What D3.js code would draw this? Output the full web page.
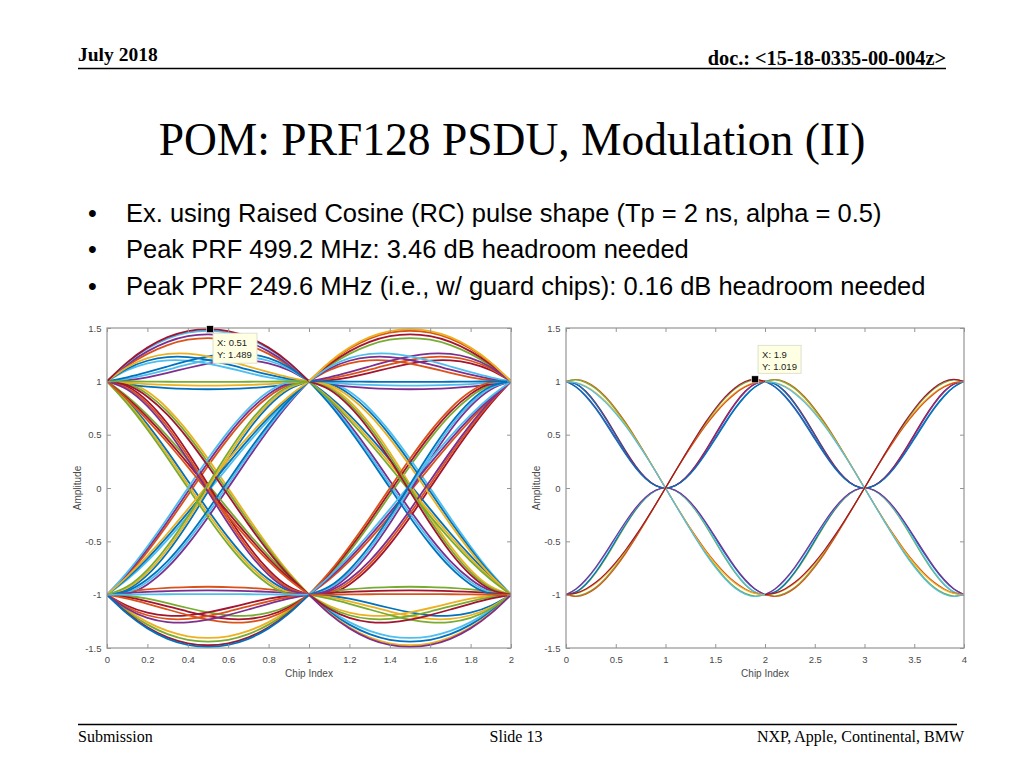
<!DOCTYPE html>
<html><head><meta charset="utf-8">
<script src="https://cdn.jsdelivr.net/npm/d3@7"></script>
<style>body{margin:0;background:#fff}svg{display:block}</style>
</head><body>
<svg id="c" width="1024" height="768"></svg>
<script>
// ---------------- DATA ----------------
const headerLeft = "July 2018";
const headerRight = "doc.: <15-18-0335-00-004z>";
const titleText = "POM: PRF128 PSDU, Modulation (II)";
const bullets = [
  "Ex. using Raised Cosine (RC) pulse shape (Tp = 2 ns, alpha = 0.5)",
  "Peak PRF 499.2 MHz: 3.46 dB headroom needed",
  "Peak PRF 249.6 MHz (i.e., w/ guard chips): 0.16 dB headroom needed"
];
const footer = ["Submission", "Slide 13", "NXP, Apple, Continental, BMW"];

const yTicks = [-1.5, -1, -0.5, 0, 0.5, 1, 1.5];
const leftXTicks = [0, 0.2, 0.4, 0.6, 0.8, 1, 1.2, 1.4, 1.6, 1.8, 2];
const rightXTicks = [0, 0.5, 1, 1.5, 2, 2.5, 3, 3.5, 4];
const xLabel = "Chip Index";
const yLabel = "Amplitude";

// sample positions inside one segment
const stepsOne = [0, 0.1, 0.2, 0.3, 0.4, 0.5, 0.6, 0.7, 0.8, 0.9, 1];
const stepsTwo = [0, 0.1, 0.2, 0.3, 0.4, 0.5, 0.6, 0.7, 0.8, 0.9, 1, 1.1, 1.2, 1.3, 1.4, 1.5, 1.6, 1.7, 1.8, 1.9, 2];
const leftSegStarts = [0, 1];
const rightSegStarts = [0, 2];

// Left eye (Peak PRF 499.2 MHz): one-chip trace segments, starting at +1
const arcA = [1, 1.178, 1.316, 1.414, 1.471, 1.489, 1.471, 1.414, 1.316, 1.178, 1];
const arcB = [1, 1.172, 1.305, 1.400, 1.456, 1.474, 1.456, 1.400, 1.305, 1.172, 1];
const arcC = [1, 1.158, 1.281, 1.370, 1.423, 1.440, 1.423, 1.370, 1.281, 1.158, 1];
const arcD = [1, 1.144, 1.257, 1.340, 1.390, 1.406, 1.390, 1.340, 1.257, 1.144, 1];
const skewRA = [1, 1.038, 1.086, 1.139, 1.191, 1.234, 1.260, 1.257, 1.217, 1.132, 1];
const skewRB = [1, 1.024, 1.062, 1.109, 1.158, 1.200, 1.227, 1.227, 1.193, 1.118, 1];
const skewRC = [1, 1.010, 1.038, 1.079, 1.125, 1.166, 1.194, 1.197, 1.169, 1.104, 1];
const skewLA = [1, 1.132, 1.217, 1.257, 1.260, 1.234, 1.191, 1.139, 1.086, 1.038, 1];
const skewLB = [1, 1.118, 1.193, 1.227, 1.227, 1.200, 1.158, 1.109, 1.062, 1.024, 1];
const skewLC = [1, 1.104, 1.169, 1.197, 1.194, 1.166, 1.125, 1.079, 1.038, 1.010, 1];
const flatA = [1, 0.999, 0.998, 0.996, 0.995, 0.994, 0.995, 0.996, 0.998, 0.999, 1];
const flatB = [1, 0.985, 0.974, 0.966, 0.962, 0.960, 0.962, 0.966, 0.974, 0.985, 1];
const flatC = [1, 0.971, 0.950, 0.936, 0.929, 0.926, 0.929, 0.936, 0.950, 0.971, 1];
const fallA1 = [1, 0.819, 0.596, 0.341, 0.068, -0.206, -0.463, -0.685, -0.856, -0.964, -1];
const fallA2 = [1, 0.805, 0.572, 0.311, 0.035, -0.240, -0.496, -0.715, -0.880, -0.978, -1];
const fallA3 = [1, 0.791, 0.548, 0.281, 0.002, -0.274, -0.529, -0.745, -0.904, -0.992, -1];
const fallB1 = [1, 0.992, 0.904, 0.745, 0.529, 0.274, -0.002, -0.281, -0.548, -0.791, -1];
const fallB2 = [1, 0.978, 0.880, 0.715, 0.496, 0.240, -0.035, -0.311, -0.572, -0.805, -1];
const fallB3 = [1, 0.964, 0.856, 0.685, 0.463, 0.206, -0.068, -0.341, -0.596, -0.819, -1];
const fallC1 = [1, 0.858, 0.685, 0.484, 0.264, 0.034, -0.198, -0.424, -0.637, -0.830, -1];
const fallC2 = [1, 0.844, 0.661, 0.454, 0.231, 0.000, -0.231, -0.454, -0.661, -0.844, -1];
const fallC3 = [1, 0.830, 0.637, 0.424, 0.198, -0.034, -0.264, -0.484, -0.685, -0.858, -1];
const fallD1 = [1, 0.952, 0.815, 0.602, 0.333, 0.034, -0.267, -0.542, -0.767, -0.924, -1];
const fallD2 = [1, 0.938, 0.791, 0.572, 0.300, 0.000, -0.300, -0.572, -0.791, -0.938, -1];
const fallD3 = [1, 0.924, 0.767, 0.542, 0.267, -0.034, -0.333, -0.602, -0.815, -0.952, -1];
// starting at -1
const troughA = [-1, -1.178, -1.316, -1.414, -1.471, -1.489, -1.471, -1.414, -1.316, -1.178, -1];
const troughB = [-1, -1.172, -1.305, -1.400, -1.456, -1.474, -1.456, -1.400, -1.305, -1.172, -1];
const troughC = [-1, -1.158, -1.281, -1.370, -1.423, -1.440, -1.423, -1.370, -1.281, -1.158, -1];
const troughD = [-1, -1.144, -1.257, -1.340, -1.390, -1.406, -1.390, -1.340, -1.257, -1.144, -1];
const nskewRA = [-1, -1.038, -1.086, -1.139, -1.191, -1.234, -1.260, -1.257, -1.217, -1.132, -1];
const nskewRB = [-1, -1.024, -1.062, -1.109, -1.158, -1.200, -1.227, -1.227, -1.193, -1.118, -1];
const nskewRC = [-1, -1.010, -1.038, -1.079, -1.125, -1.166, -1.194, -1.197, -1.169, -1.104, -1];
const nskewLA = [-1, -1.132, -1.217, -1.257, -1.260, -1.234, -1.191, -1.139, -1.086, -1.038, -1];
const nskewLB = [-1, -1.118, -1.193, -1.227, -1.227, -1.200, -1.158, -1.109, -1.062, -1.024, -1];
const nskewLC = [-1, -1.104, -1.169, -1.197, -1.194, -1.166, -1.125, -1.079, -1.038, -1.010, -1];
const nflatA = [-1, -0.999, -0.998, -0.996, -0.995, -0.994, -0.995, -0.996, -0.998, -0.999, -1];
const nflatB = [-1, -0.985, -0.974, -0.966, -0.962, -0.960, -0.962, -0.966, -0.974, -0.985, -1];
const nflatC = [-1, -0.971, -0.950, -0.936, -0.929, -0.926, -0.929, -0.936, -0.950, -0.971, -1];
const riseA1 = [-1, -0.819, -0.596, -0.341, -0.068, 0.206, 0.463, 0.685, 0.856, 0.964, 1];
const riseA2 = [-1, -0.805, -0.572, -0.311, -0.035, 0.240, 0.496, 0.715, 0.880, 0.978, 1];
const riseA3 = [-1, -0.791, -0.548, -0.281, -0.002, 0.274, 0.529, 0.745, 0.904, 0.992, 1];
const riseB1 = [-1, -0.992, -0.904, -0.745, -0.529, -0.274, 0.002, 0.281, 0.548, 0.791, 1];
const riseB2 = [-1, -0.978, -0.880, -0.715, -0.496, -0.240, 0.035, 0.311, 0.572, 0.805, 1];
const riseB3 = [-1, -0.964, -0.856, -0.685, -0.463, -0.206, 0.068, 0.341, 0.596, 0.819, 1];
const riseC1 = [-1, -0.858, -0.685, -0.484, -0.264, -0.034, 0.198, 0.424, 0.637, 0.830, 1];
const riseC2 = [-1, -0.844, -0.661, -0.454, -0.231, 0.000, 0.231, 0.454, 0.661, 0.844, 1];
const riseC3 = [-1, -0.830, -0.637, -0.424, -0.198, 0.034, 0.264, 0.484, 0.685, 0.858, 1];
const riseD1 = [-1, -0.952, -0.815, -0.602, -0.333, -0.034, 0.267, 0.542, 0.767, 0.924, 1];
const riseD2 = [-1, -0.938, -0.791, -0.572, -0.300, 0.000, 0.300, 0.572, 0.791, 0.938, 1];
const riseD3 = [-1, -0.924, -0.767, -0.542, -0.267, 0.034, 0.333, 0.602, 0.815, 0.952, 1];

// Right eye (Peak PRF 249.6 MHz, guard chips): two-chip trace segments
const uuA = [1, 0.978, 0.908, 0.797, 0.658, 0.503, 0.348, 0.208, 0.096, 0.025, 0, 0.025, 0.096, 0.208, 0.348, 0.503, 0.658, 0.797, 0.908, 0.978, 1];
const uuB = [1, 0.974, 0.900, 0.787, 0.646, 0.491, 0.338, 0.200, 0.092, 0.023, 0, 0.023, 0.090, 0.194, 0.324, 0.469, 0.616, 0.751, 0.866, 0.950, 1];
const uuC = [1, 0.950, 0.866, 0.751, 0.616, 0.469, 0.324, 0.194, 0.090, 0.023, 0, 0.023, 0.092, 0.200, 0.338, 0.491, 0.646, 0.787, 0.900, 0.974, 1];
const uuD = [1, 0.946, 0.858, 0.741, 0.604, 0.457, 0.314, 0.186, 0.086, 0.021, 0, 0.021, 0.086, 0.186, 0.314, 0.457, 0.604, 0.741, 0.858, 0.946, 1];
const udA = [1, 1.017, 0.996, 0.940, 0.854, 0.743, 0.613, 0.469, 0.315, 0.159, 0, -0.155, -0.305, -0.447, -0.579, -0.697, -0.800, -0.884, -0.946, -0.985, -1];
const udB = [1, 1.013, 0.988, 0.930, 0.842, 0.731, 0.603, 0.461, 0.311, 0.157, 0, -0.157, -0.311, -0.461, -0.603, -0.731, -0.842, -0.930, -0.988, -1.013, -1];
const udC = [1, 0.989, 0.954, 0.894, 0.812, 0.709, 0.589, 0.455, 0.309, 0.157, 0, -0.157, -0.309, -0.455, -0.589, -0.709, -0.812, -0.894, -0.954, -0.989, -1];
const udD = [1, 0.985, 0.946, 0.884, 0.800, 0.697, 0.579, 0.447, 0.305, 0.155, 0, -0.159, -0.315, -0.469, -0.613, -0.743, -0.854, -0.940, -0.996, -1.017, -1];
const ddA = [-1, -0.978, -0.908, -0.797, -0.658, -0.503, -0.348, -0.208, -0.096, -0.025, 0, -0.025, -0.096, -0.208, -0.348, -0.503, -0.658, -0.797, -0.908, -0.978, -1];
const ddB = [-1, -0.974, -0.900, -0.787, -0.646, -0.491, -0.338, -0.200, -0.092, -0.023, 0, -0.023, -0.090, -0.194, -0.324, -0.469, -0.616, -0.751, -0.866, -0.950, -1];
const ddC = [-1, -0.950, -0.866, -0.751, -0.616, -0.469, -0.324, -0.194, -0.090, -0.023, 0, -0.023, -0.092, -0.200, -0.338, -0.491, -0.646, -0.787, -0.900, -0.974, -1];
const ddD = [-1, -0.946, -0.858, -0.741, -0.604, -0.457, -0.314, -0.186, -0.086, -0.021, 0, -0.021, -0.086, -0.186, -0.314, -0.457, -0.604, -0.741, -0.858, -0.946, -1];
const duA = [-1, -0.985, -0.946, -0.884, -0.800, -0.697, -0.579, -0.447, -0.305, -0.155, 0, 0.159, 0.315, 0.469, 0.613, 0.743, 0.854, 0.940, 0.998, 1.019, 1];
const duB = [-1, -0.989, -0.954, -0.894, -0.812, -0.709, -0.589, -0.455, -0.309, -0.157, 0, 0.157, 0.309, 0.455, 0.589, 0.709, 0.812, 0.894, 0.954, 0.989, 1];
const duC = [-1, -1.013, -0.988, -0.930, -0.842, -0.731, -0.603, -0.461, -0.311, -0.157, 0, 0.157, 0.311, 0.461, 0.603, 0.731, 0.842, 0.930, 0.988, 1.013, 1];
const duD = [-1, -1.017, -0.996, -0.940, -0.854, -0.743, -0.613, -0.469, -0.315, -0.159, 0, 0.155, 0.305, 0.447, 0.579, 0.697, 0.800, 0.884, 0.946, 0.985, 1];

// data tips
const tipX = [0.51, 1.9];
const tipY = [1.489, 1.019];

// MATLAB default colour order
const colorOrder = ["#0072BD", "#D95319", "#EDB120", "#7E2F8E", "#77AC30", "#4DBEEE", "#A2142F"];

const leftSegments = [
  fallA1, riseA1, fallB1, riseB1, fallC1, riseC1, fallD1, riseD1,
  arcD, troughD, skewRC, nskewRC, skewLC, nskewLC, flatC, nflatC,
  fallA2, riseA2, fallB2, riseB2, fallC2, riseC2, fallD2, riseD2,
  arcC, troughC, skewRB, nskewRB, skewLB, nskewLB, flatB, nflatB,
  fallA3, riseA3, fallB3, riseB3, fallC3, riseC3, fallD3, riseD3,
  arcB, troughB, skewRA, nskewRA, skewLA, nskewLA, flatA, nflatA,
  arcA, troughA
];
const rightSegments = [
  {v: uuA, c: "#A2142F"}, {v: uuB, c: "#0072BD"}, {v: uuC, c: "#7E2F8E"}, {v: uuD, c: "#0072BD"},
  {v: ddA, c: "#77AC30"}, {v: ddB, c: "#0072BD"}, {v: ddC, c: "#4DBEEE"}, {v: ddD, c: "#7E2F8E"},
  {v: udA, c: "#D95319"}, {v: udB, c: "#77AC30"}, {v: udC, c: "#EDB120"}, {v: udD, c: "#4DBEEE"},
  {v: duB, c: "#EDB120"}, {v: duC, c: "#77AC30"}, {v: duD, c: "#D95319"}, {v: duA, c: "#A2142F"}
];

// ---------------- DRAW ----------------
const svg = d3.select("#c");
const serif = "'Liberation Serif','Times New Roman',serif";
const sans = "'Liberation Sans',Arial,Helvetica,sans-serif";

// header
svg.append("text").attr("x", 78).attr("y", 61).attr("font-family", serif).attr("font-weight", "bold")
  .attr("font-size", 19.5).text(headerLeft);
svg.append("text").attr("x", 946).attr("y", 65).attr("text-anchor", "end").attr("font-family", serif)
  .attr("font-weight", "bold").attr("font-size", 20.3).text(headerRight);
svg.append("line").attr("x1", 78).attr("x2", 946).attr("y1", 68.5).attr("y2", 68.5)
  .attr("stroke", "#000").attr("stroke-width", 1.6);

// title
svg.append("text").attr("x", 512).attr("y", 155).attr("text-anchor", "middle").attr("font-family", serif)
  .attr("font-size", 45.5).attr("fill", "#000").text(titleText);

// bullets
bullets.forEach((b, i) => {
  const y = [222, 258, 295][i];
  svg.append("text").attr("x", 88).attr("y", y).attr("font-family", sans).attr("font-size", 25).text("\u2022");
  svg.append("text").attr("x", 126).attr("y", y).attr("font-family", sans).attr("font-size", 25.5).text(b);
});

// footer
svg.append("line").attr("x1", 78).attr("x2", 957).attr("y1", 724.5).attr("y2", 724.5)
  .attr("stroke", "#000").attr("stroke-width", 1.4);
svg.append("text").attr("x", 78).attr("y", 742).attr("font-family", serif).attr("font-size", 16).text(footer[0]);
svg.append("text").attr("x", 516).attr("y", 742).attr("text-anchor", "middle").attr("font-family", serif).attr("font-size", 16).text(footer[1]);
svg.append("text").attr("x", 964).attr("y", 742).attr("text-anchor", "end").attr("font-family", serif).attr("font-size", 16).text(footer[2]);

function drawPlot(opts) {
  const x = d3.scaleLinear().domain(opts.xDomain).range(opts.xRange);
  const y = d3.scaleLinear().domain([-1.5, 1.5]).range([648, 328]);
  const g = svg.append("g");
  const clipId = "clip" + opts.id;
  g.append("clipPath").attr("id", clipId).append("rect")
    .attr("x", opts.xRange[0]).attr("y", 326).attr("width", opts.xRange[1] - opts.xRange[0]).attr("height", 324);
  const lines = g.append("g").attr("clip-path", `url(#${clipId})`);
  const lineGen = d3.line().x(d => x(d[0])).y(d => y(d[1])).curve(d3.curveNatural);
  opts.segStarts.forEach((s, si) => {
    opts.segments.forEach((seg, i) => {
      const vals = seg.v || seg;
      const col = seg.c || colorOrder[(i + si * 3) % colorOrder.length];
      const pts = vals.map((v, k) => [s + opts.steps[k], v]);
      lines.append("path").attr("d", lineGen(pts)).attr("fill", "none")
        .attr("stroke", col).attr("stroke-width", opts.lw);
    });
  });
  const axisColor = "#959595";
  const textColor = "#4a4a4a";
  const bottom = g.append("g").attr("transform", "translate(0,648)")
    .call(d3.axisBottom(x).tickValues(opts.xTicks).tickSizeInner(-4).tickSizeOuter(0).tickPadding(8.5).tickFormat(d => String(d)));
  const left = g.append("g").attr("transform", `translate(${opts.xRange[0]},0)`)
    .call(d3.axisLeft(y).tickValues(yTicks).tickSizeInner(-4).tickSizeOuter(0).tickPadding(5.5).tickFormat(d => String(d)));
  const top = g.append("g").attr("transform", "translate(0,328)")
    .call(d3.axisTop(x).tickValues(opts.xTicks).tickSizeInner(-4).tickSizeOuter(0).tickFormat(""));
  const right = g.append("g").attr("transform", `translate(${opts.xRange[1]},0)`)
    .call(d3.axisRight(y).tickValues(yTicks).tickSizeInner(-4).tickSizeOuter(0).tickFormat(""));
  [bottom, left, top, right].forEach(a => {
    a.select(".domain").remove();
    a.selectAll("line").attr("stroke", axisColor);
    a.selectAll("text").attr("fill", textColor).attr("font-family", sans).attr("font-size", 9.5);
  });
  g.append("rect").attr("x", opts.xRange[0]).attr("y", 328)
    .attr("width", opts.xRange[1] - opts.xRange[0]).attr("height", 320)
    .attr("fill", "none").attr("stroke", axisColor).attr("stroke-width", 1.2);
  g.append("text").attr("x", (opts.xRange[0] + opts.xRange[1]) / 2).attr("y", 677)
    .attr("text-anchor", "middle").attr("font-family", sans).attr("font-size", 10).attr("fill", textColor).text(xLabel);
  g.append("text").attr("transform", `translate(${opts.xRange[0] - 26},488) rotate(-90)`)
    .attr("text-anchor", "middle").attr("font-family", sans).attr("font-size", 10).attr("fill", textColor).text(yLabel);

  // data tip
  const mx = x(tipX[opts.tip]), my = y(tipY[opts.tip]);
  const tg = g.append("g");
  const bw = opts.tip === 0 ? 44 : 43, bh = opts.tip === 0 ? 30 : 28;
  const bx = mx + 3, by = opts.tip === 0 ? my + 4 : my - 6 - bh;
  tg.append("rect").attr("x", bx).attr("y", by).attr("width", bw).attr("height", bh)
    .attr("fill", "#ffffe4").attr("stroke", "#d8d8c8").attr("stroke-width", 0.8);
  tg.append("text").attr("x", bx + 4).attr("y", by + 12.5).attr("font-family", sans).attr("font-size", 9.5)
    .attr("fill", "#222").text("X: " + tipX[opts.tip]);
  tg.append("text").attr("x", bx + 4).attr("y", by + 25).attr("font-family", sans).attr("font-size", 9.5)
    .attr("fill", "#222").text("Y: " + tipY[opts.tip]);
  tg.append("rect").attr("x", mx - 3.5).attr("y", my - 3.5).attr("width", 7).attr("height", 7)
    .attr("fill", "#000").attr("stroke", "#fff").attr("stroke-width", 0.6);
}

drawPlot({id: "L", xDomain: [0, 2], xRange: [107, 511], xTicks: leftXTicks, segStarts: leftSegStarts,
  segments: leftSegments, steps: stepsOne, lw: 1.8, tip: 0});
drawPlot({id: "R", xDomain: [0, 4], xRange: [566, 964], xTicks: rightXTicks, segStarts: rightSegStarts,
  segments: rightSegments, steps: stepsTwo, lw: 1.2, tip: 1});
</script>
</body></html>
